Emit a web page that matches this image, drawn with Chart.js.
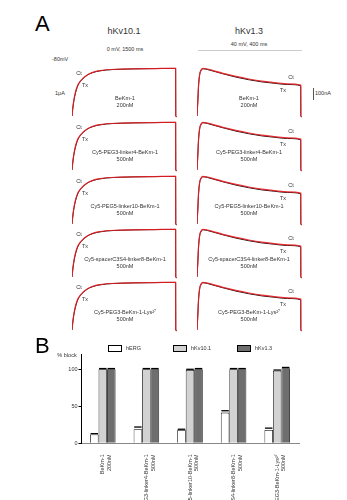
<!DOCTYPE html>
<html>
<head>
<meta charset="utf-8">
<script src="https://cdn.jsdelivr.net/npm/chart.js@4"></script>
<style>
  body { margin: 0; background: #fff; }
  #fig { position: relative; width: 347px; height: 500px; overflow: hidden; font-family: "Liberation Sans", Arial, sans-serif; color: #333; }
  #fig canvas { position: absolute; }
  .t { position: absolute; white-space: nowrap; line-height: 1; transform: translate(-50%, -50%); }
  .l { transform: translate(0, -50%); }
  .box { position: absolute; width: 12px; height: 5px; border: 1px solid #000; }
</style>
</head>
<body>
<div id="fig"></div>
<script>
// Panel A - currents normalised to control plateau / peak
const kv10Time = [0, 10, 25, 50, 75, 100, 150, 200, 250, 300, 400, 500, 700, 900, 1200, 1500, 1502, 1515];
const kv10Ct = [0, 0.15, 0.32, 0.5, 0.62, 0.69, 0.78, 0.84, 0.885, 0.915, 0.95, 0.97, 0.982, 0.99, 0.995, 1.0, 0, -0.015];
const kv10Tx = [0, 0.14, 0.30, 0.48, 0.60, 0.68, 0.77, 0.835, 0.88, 0.91, 0.945, 0.965, 0.98, 0.988, 0.994, 0.998, 0, -0.015];

const kv13Time = [0, 3, 6, 10, 15, 23, 40, 60, 100, 150, 200, 250, 300, 350, 400, 400.5, 404];
const kv13Ct = [0, 0.3, 0.65, 0.87, 0.96, 1.0, 0.985, 0.955, 0.895, 0.83, 0.775, 0.73, 0.70, 0.675, 0.65, 0, -0.015];
const kv13Tx = [0, 0.29, 0.63, 0.85, 0.945, 0.99, 0.975, 0.945, 0.885, 0.815, 0.76, 0.715, 0.685, 0.66, 0.635, 0, -0.015];

const toxins = [
  ['BeKm-1', '200nM'],
  ['Cy5-PEG3-linker4-BeKm-1', '500nM'],
  ['Cy5-PEG5-linker10-BeKm-1', '500nM'],
  ['Cy5-spacerC3S4-linker8-BeKm-1', '500nM'],
  ['Cy5-PEG3-BeKm-1-Lys²⁷', '500nM']
];

// Panel B - % block
const herg = [12, 19, 18, 41.5, 18];
const hergErr = [1, 3, 1, 2.5, 2.5];
const kv10 = [100, 100, 99, 100, 98];
const kv10Err = [1, 1, 1, 1, 1];
const kv13 = [100, 100, 100, 100, 101.5];
const kv13Err = [1, 1, 1, 1, 1];
const yTicks = [0, 50, 100];

const fig = document.getElementById('fig');
const FONT = '"Liberation Sans", Arial, sans-serif';

function text(str, x, y, size, left) {
  const d = document.createElement('div');
  d.className = left ? 't l' : 't';
  d.style.left = x + 'px';
  d.style.top = y + 'px';
  d.style.fontSize = size + 'px';
  d.textContent = str;
  fig.appendChild(d);
  return d;
}

function trace(left, base, tArr, ct, tx, xmax) {
  const c = document.createElement('canvas');
  c.width = 105; c.height = 60;
  c.style.left = left + 'px';
  c.style.top = (base - 55) + 'px';
  fig.appendChild(c);
  new Chart(c, {
    type: 'line',
    data: {
      datasets: [
        // control drawn on top, toxin trace peeks out underneath
        { data: tArr.map((t, i) => ({ x: t, y: ct[i] })), borderColor: 'rgba(228,30,36,0.9)', borderWidth: 1.2 },
        { data: tArr.map((t, i) => ({ x: t, y: tx[i] })), borderColor: '#2a1010', borderWidth: 1.0 }
      ]
    },
    options: {
      responsive: false, animation: false, events: [],
      layout: { padding: 0 },
      elements: { point: { radius: 0 }, line: { cubicInterpolationMode: 'monotone' } },
      datasets: { line: { clip: false } },
      plugins: { legend: { display: false }, tooltip: { enabled: false } },
      scales: {
        x: { type: 'linear', display: false, min: 0, max: xmax },
        y: { display: false, min: -5 / 47.7, max: 55 / 47.7 }
      }
    }
  });
}

// ---- panel A ----
text('A', 35, 24, 22, true).style.color = '#000';
text('hKv10.1', 124, 31, 9);
text('hKv1.3', 249, 31, 9);
text('0 mV, 1500 ms', 125, 50, 5.5);
text('40 mV, 400 ms', 249, 45, 5.5);
const bar = document.createElement('div');
bar.style.cssText = 'position:absolute;left:198px;top:50px;width:104px;height:0;border-top:1px solid #ccc';
fig.appendChild(bar);
text('-80mV', 52, 60, 5.5, true);
text('1μA', 55, 94, 5.5, true);
text('100nA', 315, 94, 5.5, true);
const sb = document.createElement('div');
sb.style.cssText = 'position:absolute;left:313px;top:88px;width:0;height:12px;border-left:1px solid #555';
fig.appendChild(sb);

const rowBase = [116, 170, 224, 277, 330];
rowBase.forEach((b, r) => {
  trace(72, b, kv10Time, kv10Ct, kv10Tx, 1520);
  trace(197, b, kv13Time, kv13Ct, kv13Tx, 405);
  text('Ct', 79, b - 42, 5.5);
  text('Tx', 85, b - 30, 5.5);
  text('Ct', 291, b - 38, 5.5);
  text('Tx', 283, b - 25, 5.5);
  text(toxins[r][0], 125, b - 17, 5.5);
  text(toxins[r][1], 125, b - 10, 5.5);
  text(toxins[r][0], 249, b - 17, 5.5);
  text(toxins[r][1], 249, b - 10, 5.5);
});

// ---- panel B ----
text('B', 35, 346, 22, true).style.color = '#000';
text('% block', 67, 356, 5.5);
[['hERG', '#ffffff', 108], ['hKv10.1', '#d2d2d2', 173], ['hKv1.3', '#6e6e6e', 237]].forEach(([name, col, x]) => {
  const bx = document.createElement('div');
  bx.className = 'box';
  bx.style.left = x + 'px'; bx.style.top = '345px'; bx.style.background = col;
  fig.appendChild(bx);
  text(name, x + 18, 348.5, 5.5, true);
});

const errorCaps = {
  id: 'errorCaps',
  afterDatasetsDraw(chart) {
    const ctx = chart.ctx, y = chart.scales.y;
    chart.data.datasets.forEach((ds, i) => {
      chart.getDatasetMeta(i).data.forEach((b, j) => {
        const top = y.getPixelForValue(ds.data[j] + ds.err[j]);
        ctx.save();
        ctx.strokeStyle = '#000';
        ctx.lineWidth = 1.3;
        ctx.beginPath();
        ctx.moveTo(b.x - b.width / 2 + 0.5, top);
        ctx.lineTo(b.x + b.width / 2 - 0.5, top);
        ctx.stroke();
        ctx.restore();
      });
    });
  }
};

const cb = document.createElement('canvas');
cb.width = 347; cb.height = 160;
cb.style.left = '0px'; cb.style.top = '340px';
fig.appendChild(cb);
new Chart(cb, {
  type: 'bar',
  data: {
    labels: toxins,
    datasets: [
      { label: 'hERG', data: herg, err: hergErr, backgroundColor: '#ffffff' },
      { label: 'hKv10.1', data: kv10, err: kv10Err, backgroundColor: '#d2d2d2' },
      { label: 'hKv1.3', data: kv13, err: kv13Err, backgroundColor: '#6e6e6e' }
    ]
  },
  options: {
    responsive: false, animation: false, events: [],
    layout: { padding: { top: 14.5, right: 48, left: 0, bottom: 0 } },
    datasets: { bar: { barPercentage: 1, categoryPercentage: 0.585, borderColor: '#000', borderWidth: 0.8 } },
    plugins: { legend: { display: false }, tooltip: { enabled: false } },
    scales: {
      x: {
        grid: { display: false },
        border: { color: '#888', width: 1 },
        ticks: { minRotation: 90, maxRotation: 90, autoSkip: false, padding: 3, color: '#333', font: { size: 5.5, family: FONT } },
        afterFit(s) { s.height = 56.7; }
      },
      y: {
        min: 0, max: 120,
        afterBuildTicks(s) { s.ticks = yTicks.map(v => ({ value: v })); },
        afterFit(s) { s.width = 81; },
        grid: { drawOnChartArea: false, drawTicks: true, tickLength: 2.5, color: '#000' },
        border: { color: '#000', width: 1 },
        ticks: { padding: 1, color: '#333', font: { size: 5.5, family: FONT } }
      }
    }
  },
  plugins: [errorCaps]
});
</script>
</body>
</html>
